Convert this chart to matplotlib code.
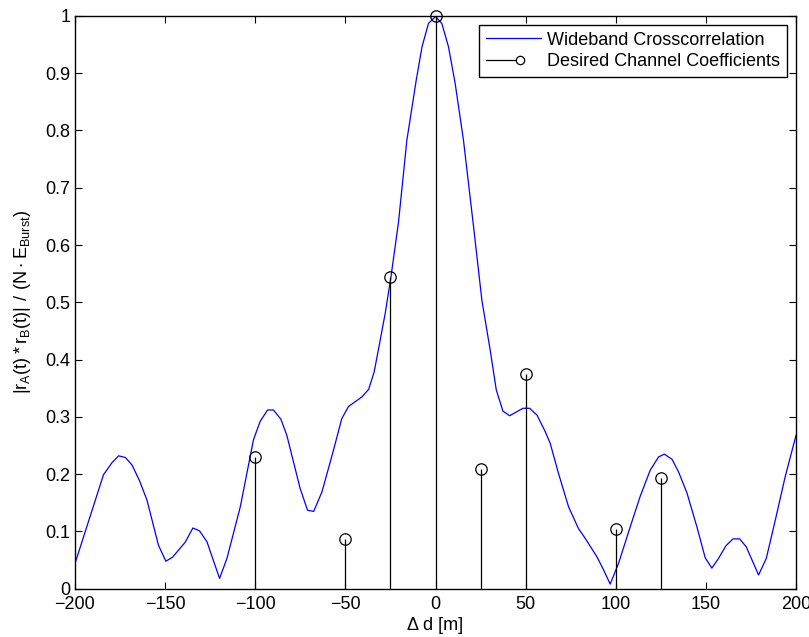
import matplotlib
matplotlib.use("Agg")
import matplotlib.pyplot as plt
from matplotlib.legend_handler import HandlerLine2D
from matplotlib.lines import Line2D

plt.rcParams["font.family"] = ["Liberation Sans", "DejaVu Sans"]
plt.rcParams["mathtext.fontset"] = "custom"
plt.rcParams["mathtext.rm"] = "Liberation Sans"
plt.rcParams["mathtext.default"] = "regular"

# Wideband crosscorrelation magnitude vs. distance offset
xcorr_d = [-200, -184.2, -179.5, -175.8, -172, -168.4, -164.4, -160.1, -153.7,
           -149.6, -145.9, -138.9, -134.6, -130.9, -126.8, -119.8, -115.7,
           -108.3, -101, -97.3, -93.2, -89.9, -85.8, -82.5, -75.1, -71,
           -67.6, -63, -56.6, -52, -48.3, -40.8, -37.1, -34, -30.7, -27.9,
           -24.7, -20.5, -15.9, -10.7, -7.5, -3.9, 0, 3.5, 7.2, 10.9, 15.5,
           21.1, 25.7, 30.3, 33.7, 37.4, 41.1, 48.5, 52.2, 56.3, 60.9, 63.6,
           68.2, 73.8, 79.3, 83, 89.5, 93.2, 96.9, 101.5, 108, 113.5, 119.1,
           123.7, 126.9, 131.2, 134.8, 139.5, 145, 149.6, 153.3, 157, 161.1,
           165, 168.7, 172.4, 179.2, 183.5, 188.5, 194, 200]
xcorr_val = [0.044, 0.199, 0.220, 0.232, 0.229, 0.216, 0.190, 0.155, 0.076,
             0.048, 0.055, 0.081, 0.106, 0.101, 0.082, 0.018, 0.053,
             0.143, 0.260, 0.292, 0.312, 0.312, 0.296, 0.268, 0.175, 0.137,
             0.135, 0.169, 0.242, 0.297, 0.318, 0.335, 0.348, 0.379, 0.434, 0.481,
             0.545, 0.641, 0.783, 0.888, 0.946, 0.987, 0.999, 0.987, 0.946, 0.882, 0.783,
             0.632, 0.504, 0.417, 0.347, 0.310, 0.302, 0.315, 0.315, 0.303, 0.274, 0.254,
             0.2015, 0.143, 0.105, 0.088, 0.056, 0.033, 0.008, 0.044, 0.108, 0.161, 0.207,
             0.230, 0.235, 0.226, 0.204, 0.167, 0.108, 0.054, 0.036, 0.053, 0.075,
             0.087, 0.087, 0.073, 0.024, 0.053, 0.120, 0.196, 0.268]

# Desired channel coefficients
coef_d = [-100, -50, -25, 0, 25, 50, 100, 125]
coef_val = [0.230, 0.086, 0.545, 1.0, 0.209, 0.375, 0.105, 0.193]

x_ticks = [-200, -150, -100, -50, 0, 50, 100, 150, 200]
y_ticks = [0, 0.1, 0.2, 0.3, 0.4, 0.5, 0.6, 0.7, 0.8, 0.9, 1]
y_tick_labels = ["0", "0.1", "0.2", "0.3", "0.4", "0.5", "0.6", "0.7", "0.8", "0.9", "1"]

FS = 13


class HandlerStemLine(HandlerLine2D):
    """Legend entry: short stem line ending in the marker."""
    def create_artists(self, legend, orig_handle, xdescent, ydescent,
                       width, height, fontsize, trans):
        y = height / 2.0 - ydescent
        xm = 0.62 * width - xdescent
        line = Line2D([-xdescent, xm], [y, y], color=orig_handle.get_color(),
                      lw=orig_handle.get_linewidth())
        mark = Line2D([xm], [y], ls="none", marker=orig_handle.get_marker(),
                      ms=orig_handle.get_markersize(), mfc="white",
                      mec=orig_handle.get_markeredgecolor(),
                      mew=orig_handle.get_markeredgewidth())
        line.set_transform(trans)
        mark.set_transform(trans)
        return [line, mark]


fig = plt.figure(figsize=(8.09, 6.37), dpi=100)
ax = fig.add_axes([0.0927, 0.0758, 0.8913, 0.8992])

ax.plot(xcorr_d, xcorr_val, color=(0, 0, 1), lw=0.9)
ax.vlines(coef_d, 0, coef_val, color="black", lw=0.9)
ax.plot(coef_d, coef_val, ls="none", marker="o", ms=8.2, mfc="none",
        mec="black", mew=0.9, clip_on=False)

ax.set_xlim(-200, 200)
ax.set_ylim(0, 1)
ax.set_xticks(x_ticks)
ax.set_xticklabels(["\u2212%d" % -v if v < 0 else "%d" % v for v in x_ticks])
ax.set_yticks(y_ticks)
ax.set_yticklabels(y_tick_labels)
ax.tick_params(direction="in", length=5, width=0.8, top=True, right=True,
               labelsize=FS)
ax.tick_params(axis="y", pad=3.5)
ax.tick_params(axis="x", pad=5)
for s in ax.spines.values():
    s.set_linewidth(1.0)

ax.set_xlabel("\u0394 d [m]", fontsize=FS, labelpad=3)
ax.set_ylabel(r"$|r_A(t) * r_B(t)|\ /\ (N \cdot E_{Burst})$", fontsize=FS, labelpad=9)

h_line = Line2D([], [], color=(0, 0, 1), lw=0.9)
h_stem = Line2D([], [], color="black", lw=0.9, marker="o", ms=6, mfc="none",
                mec="black", mew=0.9)
leg = ax.legend([h_line, h_stem],
                ["Wideband Crosscorrelation", "Desired Channel Coefficients"],
                loc="upper right", bbox_to_anchor=(0.9875, 0.985), fontsize=FS,
                frameon=True, fancybox=False, edgecolor="black", framealpha=1,
                handlelength=3.0, handletextpad=0.35, borderpad=0.4,
                labelspacing=0.25, borderaxespad=0,
                handler_map={h_stem: HandlerStemLine()})
leg.get_frame().set_linewidth(1.0)

fig.savefig("out.png", dpi=100)
